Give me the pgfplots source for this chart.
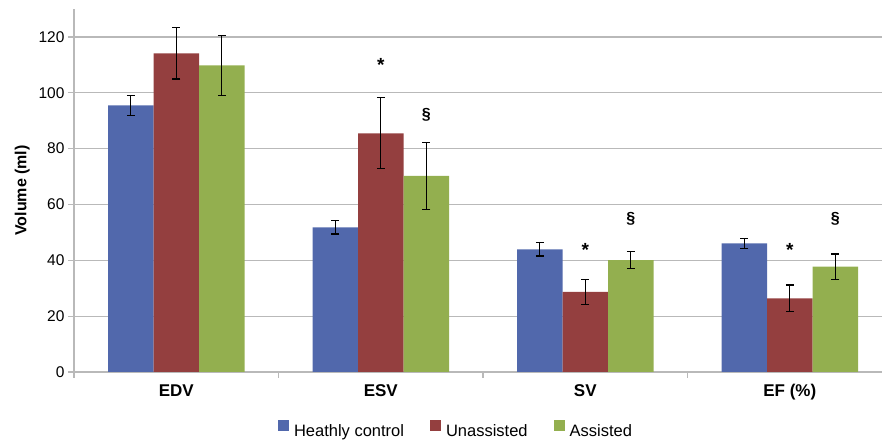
\documentclass[border=0pt]{standalone}
\usepackage{fontspec}
\setmainfont{Liberation Sans}
\usepackage{pgfplots}
\pgfplotsset{compat=1.18}
\definecolor{cblue}{RGB}{81,104,172}
\definecolor{cred}{RGB}{148,63,63}
\definecolor{cgreen}{RGB}{147,175,79}
\definecolor{cgrid}{RGB}{185,185,185}
\begin{document}
\begin{tikzpicture}
\begin{axis}[name=ax, scale only axis, width=808pt, height=363pt,
  ybar=0pt, bar width=45.5pt,
  xmin=-0.5, xmax=3.451, ymin=0, ymax=130,
  axis x line*=bottom, axis y line*=left,
  axis line style={cgrid, line width=1.2pt},
  tick align=outside,
  ytick={0,20,...,120}, ymajorgrids, grid style={cgrid, line width=1.2pt},
  major tick length=6pt, minor tick length=6pt,
  y tick style={cgrid, line width=1.2pt},
  xtick={0,1,2,3}, xticklabels={EDV,ESV,SV,EF (\%)},
  major x tick style={draw=none},
  minor xtick={-0.5,0.5,1.5,2.5},
  minor x tick style={cgrid, line width=1.2pt},
  /pgf/number format/assume math mode=true,
  yticklabel style={font=\fontsize{15.5}{18}\selectfont},
  xticklabel style={font=\bfseries\fontsize{17}{20}\selectfont, yshift=-3pt},
  ylabel={Volume (ml)},
  ylabel style={font=\bfseries\fontsize{16}{19}\selectfont, at={(axis description cs:-0.064,0.5)}, anchor=center},
  legend columns=3,
  legend style={draw=none, at={(0.4728,-0.16)}, anchor=center,
    font=\fontsize{16.5}{19}\selectfont,
    /tikz/every odd column/.append style={column sep=3pt},
    /tikz/every even column/.append style={column sep=24pt}},
  legend image code/.code={\fill[#1, draw=none] (0pt,-0.5pt) rectangle (11pt,10.5pt);},
]
\addplot[fill=cblue, draw=none, error bars/.cd, y dir=both, y explicit,
  error bar style={black, line width=1.4pt},
  error mark options={rotate=90, mark size=4pt, black, line width=1.4pt}]
  coordinates {(0,95.5) +- (0,3.6) (1,51.8) +- (0,2.4) (2,43.9) +- (0,2.4) (3,46.1) +- (0,1.8)};
\addplot[fill=cred, draw=none, error bars/.cd, y dir=both, y explicit,
  error bar style={black, line width=1.4pt},
  error mark options={rotate=90, mark size=4pt, black, line width=1.4pt}]
  coordinates {(0,114.1) +- (0,9.2) (1,85.5) +- (0,12.7) (2,28.7) +- (0,4.5) (3,26.4) +- (0,4.8)};
\addplot[fill=cgreen, draw=none, error bars/.cd, y dir=both, y explicit,
  error bar style={black, line width=1.4pt},
  error mark options={rotate=90, mark size=4pt, black, line width=1.4pt}]
  coordinates {(0,109.8) +- (0,10.8) (1,70.2) +- (0,12) (2,40.1) +- (0,3) (3,37.7) +- (0,4.6)};
\legend{Heathly control, Unassisted, Assisted}
\node[font=\bfseries\fontsize{19}{22}\selectfont] at (axis cs:1,110) {*};
\node[font=\bfseries\fontsize{16}{19}\selectfont] at (axis cs:1.2225,92.1) {§};
\node[font=\bfseries\fontsize{19}{22}\selectfont] at (axis cs:2,43.6) {*};
\node[font=\bfseries\fontsize{16}{19}\selectfont] at (axis cs:2.2225,55) {§};
\node[font=\bfseries\fontsize{19}{22}\selectfont] at (axis cs:3,43.6) {*};
\node[font=\bfseries\fontsize{16}{19}\selectfont] at (axis cs:3.2225,55) {§};
\end{axis}
\pgfresetboundingbox
\path (ax.south west) ++(-74pt,-71pt) rectangle ++(882pt,443pt);
\end{tikzpicture}
\end{document}
